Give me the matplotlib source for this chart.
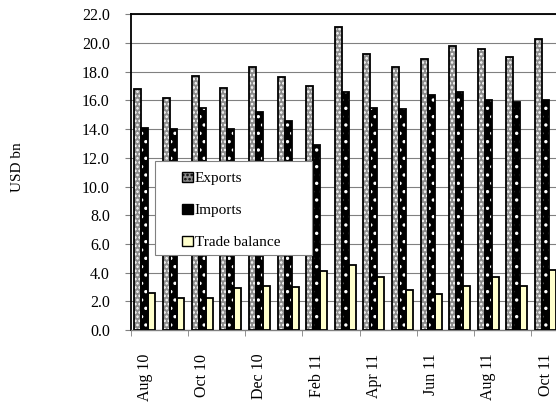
import numpy as np
import matplotlib
matplotlib.use('Agg')
import matplotlib.pyplot as plt
from matplotlib.patches import Patch, Rectangle

months = ['Aug 10', 'Sep 10', 'Oct 10', 'Nov 10', 'Dec 10', 'Jan 11', 'Feb 11', 'Mar 11',
          'Apr 11', 'May 11', 'Jun 11', 'Jul 11', 'Aug 11', 'Sep 11', 'Oct 11']
exports = [16.8, 16.2, 17.7, 16.9, 18.3, 17.6, 17.0, 21.1, 19.2, 18.3, 18.9, 19.8, 19.6, 19.0, 20.3]
imports = [14.1, 14.0, 15.5, 14.0, 15.2, 14.6, 12.9, 16.6, 15.5, 15.4, 16.4, 16.6, 16.0, 15.9, 16.0]
balance = [2.6, 2.2, 2.2, 2.9, 3.1, 3.0, 4.1, 4.5, 3.7, 2.8, 2.5, 3.1, 3.7, 3.1, 4.2]

plt.rcParams['font.family'] = ['Liberation Serif', 'DejaVu Serif']
plt.rcParams['hatch.linewidth'] = 1.2

fig = plt.figure(figsize=(5.56, 4.03), dpi=100)
ax = fig.add_axes([0.235, 0.181, 0.772, 0.7835])

x = np.arange(len(months))
w = 0.245

# patterned fills first (white hatch), then black outlines on top
ax.bar(x - w, exports, w, color='#8c8c8c', edgecolor='white', hatch='....', lw=0, zorder=2)
ax.bar(x, imports, w, color='black', edgecolor='white', hatch='..', lw=0, zorder=2)
ax.bar(x + w, balance, w, color='#ffffcc', lw=0, zorder=2)
ax.bar(x - w, exports, w, fill=False, edgecolor='black', lw=1.3, zorder=3)
ax.bar(x, imports, w, fill=False, edgecolor='black', lw=1.3, zorder=3)
ax.bar(x + w, balance, w, fill=False, edgecolor='black', lw=1.3, zorder=3)

# legend box drawn by hand so the padding matches
ax.add_patch(Rectangle((0.0566, 0.237), 0.366, 0.298, transform=ax.transAxes,
                       facecolor='white', edgecolor='#808080', lw=0.8, zorder=4))
handles = [Patch(facecolor='#8c8c8c', edgecolor='black', hatch='....', label='Exports'),
           Patch(facecolor='black', edgecolor='black', label='Imports'),
           Patch(facecolor='#ffffcc', edgecolor='black', label='Trade balance')]
leg = ax.legend(handles=handles, loc='upper left', bbox_to_anchor=(0.12, 0.502),
                frameon=False, fontsize=11,
                handlelength=0.7, handleheight=0.7, handletextpad=0.12,
                labelspacing=1.2, borderpad=0, borderaxespad=0)
leg.set_zorder(5)

ax.set_xlim(-0.5, len(months) - 0.5)
ax.set_ylim(0, 22)
ax.set_yticks(np.arange(0, 22.1, 2))
ax.set_yticklabels(['%.1f' % v for v in np.arange(0, 22.1, 2)], fontsize=11.5)
ax.yaxis.grid(True, color='#808080', lw=0.8, zorder=0)
ax.set_axisbelow(True)

ax.set_xticks(x[::2])
ax.set_xticklabels(months[::2], rotation=90, fontsize=11.5)
ax.set_xticks(np.arange(-0.5, len(months), 2), minor=True)
ax.tick_params(axis='x', which='major', length=0, pad=17)
ax.tick_params(axis='x', which='minor', length=4, color='#808080')
ax.tick_params(axis='y', length=4, color='#808080', pad=11)

for s in ax.spines.values():
    s.set_linewidth(1.3)
ax.spines['bottom'].set_color('#808080')
ax.spines['bottom'].set_linewidth(1.0)

fig.text(0.031, 0.585, 'USD bn', rotation=90, ha='center', va='center', fontsize=11)

fig.savefig('out.png', dpi=100)
